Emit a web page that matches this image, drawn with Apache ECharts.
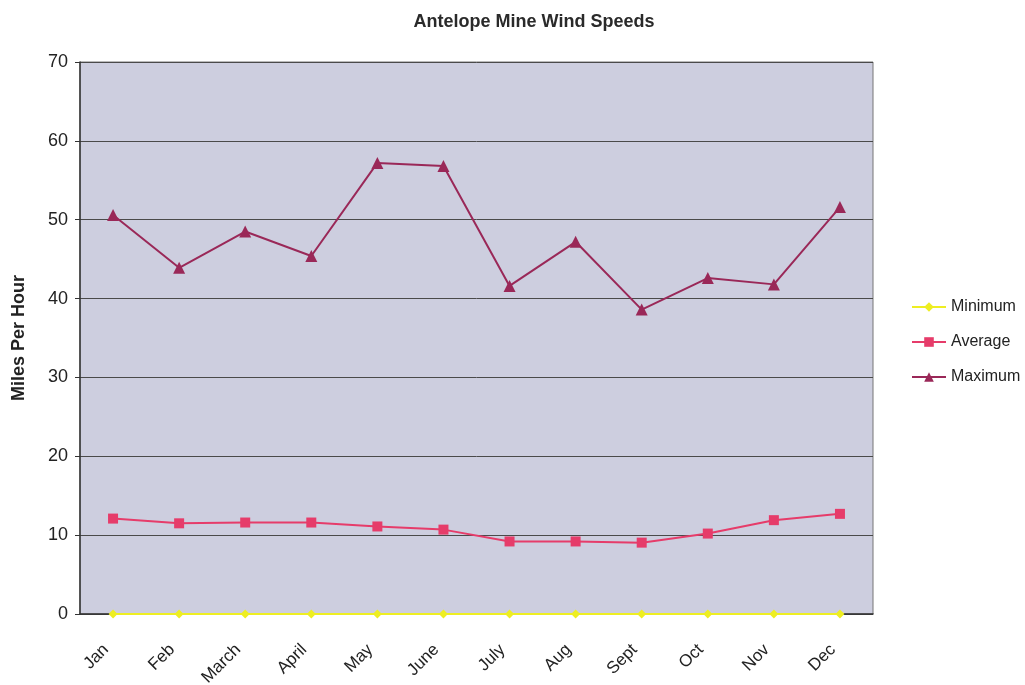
<!DOCTYPE html>
<html>
<head>
<meta charset="utf-8">
<script src="https://cdn.jsdelivr.net/npm/echarts@6/dist/echarts.min.js"></script>
<style>
html,body{margin:0;padding:0;background:#fff;}
#chart{width:1025px;height:685px;}
</style>
</head>
<body>
<div id="chart"></div>
<script>
const months = ['Jan','Feb','March','April','May','June','July','Aug','Sept','Oct','Nov','Dec'];
const minimum = [0, 0, 0, 0, 0, 0, 0, 0, 0, 0, 0, 0];
const average = [12.1, 11.5, 11.6, 11.6, 11.1, 10.7, 9.2, 9.2, 9.05, 10.2, 11.9, 12.7];
const maximum = [50.6, 43.9, 48.5, 45.4, 57.2, 56.8, 41.6, 47.2, 38.6, 42.6, 41.8, 51.6];
const yTicks = [0, 10, 20, 30, 40, 50, 60, 70];

const chart = echarts.init(document.getElementById('chart'));
const font = 'Arial, "Liberation Sans", sans-serif';
chart.setOption({
  animation: false,
  backgroundColor: '#ffffff',
  title: {
    text: 'Antelope Mine Wind Speeds',
    left: 529, top: 8, textAlign: 'center',
    textStyle: {fontFamily: font, fontSize: 18, fontWeight: 'bold', color: '#2a2a2a'}
  },
  legend: {
    orient: 'vertical',
    left: 906, top: 294,
    itemGap: 19,
    itemWidth: 34, itemHeight: 12,
    textStyle: {fontFamily: font, fontSize: 16, color: '#222'},
    data: ['Minimum','Average','Maximum']
  },
  grid: {left: 80, right: 152, top: 62, bottom: 71, containLabel: false, outerBoundsMode: 'none',
         show: true, backgroundColor: '#cdcedf', borderColor: '#777', borderWidth: 1},
  xAxis: {
    type: 'category',
    data: months,
    boundaryGap: true,
    axisLine: {lineStyle: {color: '#333', width: 1.5}},
    axisTick: {show: false},
    axisLabel: {rotate: 45, fontFamily: font, fontSize: 17, color: '#222', margin: 26, interval: 0, padding: [0, 10, 0, 0]}
  },
  yAxis: {
    type: 'value',
    min: yTicks[0], max: yTicks[yTicks.length - 1], interval: 10,
    name: 'Miles Per Hour',
    nameLocation: 'middle',
    nameGap: 52,
    nameTextStyle: {fontFamily: font, fontSize: 18, fontWeight: 'bold', color: '#222'},
    axisLine: {show: true, lineStyle: {color: '#333', width: 1.5}},
    axisTick: {show: true, length: 5, lineStyle: {color: '#333'}},
    axisLabel: {fontFamily: font, fontSize: 18, color: '#222', margin: 12},
    splitLine: {lineStyle: {color: '#4a4a4a', width: 1}}
  },
  series: [
    {name: 'Minimum', type: 'line', data: minimum, symbol: 'diamond', symbolSize: 9,
     itemStyle: {color: '#eeee22'}, lineStyle: {color: '#eeee22', width: 2}},
    {name: 'Average', type: 'line', data: average, symbol: 'rect', symbolSize: 10,
     itemStyle: {color: '#e63c6a'}, lineStyle: {color: '#e63c6a', width: 2}},
    {name: 'Maximum', type: 'line', data: maximum, symbol: 'triangle', symbolSize: 12,
     itemStyle: {color: '#9a2858'}, lineStyle: {color: '#9a2858', width: 2}}
  ]
});
</script>
</body>
</html>
